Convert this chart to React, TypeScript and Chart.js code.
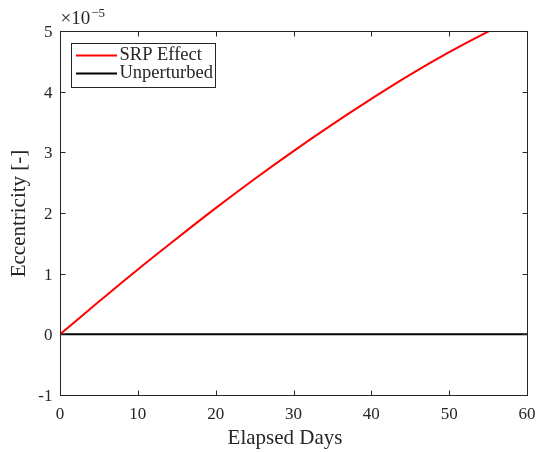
import { useEffect, useRef } from "react";
import { Chart, registerables } from "chart.js";

Chart.register(...registerables);

// Eccentricity values are in units of 1e-5 (see the ×10^-5 axis multiplier)
const elapsedDays = [0, 5, 10, 15, 20, 25, 30, 35, 40, 45, 50, 55, 60];
const srpEccentricity = [0, 0.54, 1.07, 1.58, 2.08, 2.56, 3.02, 3.46, 3.88, 4.28, 4.65, 4.99, 5.3];
const unperturbedDays = [0, 60];
const unperturbedEccentricity = [0, 0];

const xTicks = [0, 10, 20, 30, 40, 50, 60];
const xTickLabels = ["0", "10", "20", "30", "40", "50", "60"];
const yTicks = [-1, 0, 1, 2, 3, 4, 5];
const yTickLabels = ["-1", "0", "1", "2", "3", "4", "5"];

const seriesNames = ["SRP Effect", "Unperturbed"];
const seriesColors = ["#ff0000", "#000000"];

const xTitle = "Elapsed Days";
const yTitle = "Eccentricity [-]";
const multiplierBase = "\u00d710";
const multiplierExp = "\u22125";

const SERIF = '"Liberation Serif", "DejaVu Serif", serif';
const AXIS_COLOR = "#262626";

const axesPlugin = {
  id: "matlabAxes",
  afterDatasetsDraw(chart: any) {
    const { ctx, chartArea: a, scales } = chart;
    const xs = scales.x;
    const ys = scales.y;
    ctx.save();

    // axes box
    ctx.strokeStyle = AXIS_COLOR;
    ctx.lineWidth = 1;
    const L = Math.round(a.left) + 0.5;
    const R = Math.round(a.right) + 0.5;
    const T = Math.round(a.top) + 0.5;
    const B = Math.round(a.bottom) + 0.5;
    ctx.strokeRect(L, T, R - L, B - T);

    // inward tick marks on all four sides
    const tl = 5;
    ctx.beginPath();
    xTicks.forEach((v) => {
      const px = Math.round(xs.getPixelForValue(v)) + 0.5;
      ctx.moveTo(px, B);
      ctx.lineTo(px, B - tl);
      ctx.moveTo(px, T);
      ctx.lineTo(px, T + tl);
    });
    yTicks.forEach((v) => {
      const py = Math.round(ys.getPixelForValue(v)) + 0.5;
      ctx.moveTo(L, py);
      ctx.lineTo(L + tl, py);
      ctx.moveTo(R, py);
      ctx.lineTo(R - tl, py);
    });
    ctx.stroke();

    // tick labels
    ctx.fillStyle = AXIS_COLOR;
    ctx.font = `17px ${SERIF}`;
    ctx.textBaseline = "alphabetic";
    ctx.textAlign = "center";
    xTicks.forEach((v, i) => {
      ctx.fillText(xTickLabels[i], xs.getPixelForValue(v), B + 23);
    });
    ctx.textAlign = "right";
    yTicks.forEach((v, i) => {
      ctx.fillText(yTickLabels[i], L - 8, ys.getPixelForValue(v) + 6);
    });

    // exponent multiplier
    ctx.textAlign = "left";
    ctx.font = `19px ${SERIF}`;
    ctx.fillText(multiplierBase, L, 24);
    const w = ctx.measureText(multiplierBase).width;
    ctx.font = `13px ${SERIF}`;
    ctx.fillText(multiplierExp, L + w + 1, 17);

    // axis titles
    ctx.font = `21px ${SERIF}`;
    ctx.textAlign = "center";
    ctx.fillText(xTitle, (L + R) / 2 - 9, 444);
    ctx.save();
    ctx.translate(25, (T + B) / 2);
    ctx.rotate(-Math.PI / 2);
    ctx.fillText(yTitle, 0, 0);
    ctx.restore();

    // legend
    const lx = 71.5;
    const ly = 43.5;
    ctx.fillStyle = "#ffffff";
    ctx.fillRect(lx, ly, 144, 44);
    ctx.strokeStyle = AXIS_COLOR;
    ctx.lineWidth = 1;
    ctx.strokeRect(lx, ly, 144, 44);
    ctx.font = `18.5px ${SERIF}`;
    ctx.textAlign = "left";
    const rows = [55.5, 73.5];
    chart.data.datasets.forEach((ds: any, i: number) => {
      ctx.strokeStyle = ds.borderColor;
      ctx.lineWidth = 2;
      ctx.beginPath();
      ctx.moveTo(76, rows[i]);
      ctx.lineTo(117, rows[i]);
      ctx.stroke();
      ctx.fillStyle = AXIS_COLOR;
      ctx.fillText(ds.label, 119.5, rows[i] + 4);
    });

    ctx.restore();
  },
};

export default function App() {
  const canvasRef = useRef<HTMLCanvasElement | null>(null);

  useEffect(() => {
    if (!canvasRef.current) return;
    const chart = new Chart(canvasRef.current, {
      type: "line",
      data: {
        datasets: [
          {
            label: seriesNames[0],
            data: elapsedDays.map((d, i) => ({ x: d, y: srpEccentricity[i] })),
            borderColor: seriesColors[0],
            borderWidth: 2,
            pointRadius: 0,
            cubicInterpolationMode: "monotone",
            fill: false,
          },
          {
            label: seriesNames[1],
            data: unperturbedDays.map((d, i) => ({ x: d, y: unperturbedEccentricity[i] })),
            borderColor: seriesColors[1],
            borderWidth: 2,
            pointRadius: 0,
            fill: false,
          },
        ],
      },
      options: {
        responsive: false,
        animation: false,
        events: [],
        layout: { padding: { left: 0, right: 11, top: 31, bottom: 0 } },
        plugins: {
          legend: { display: false },
          tooltip: { enabled: false },
        },
        scales: {
          x: {
            type: "linear",
            min: 0,
            max: 60,
            grid: { display: false },
            border: { display: false },
            ticks: { display: false },
            afterFit: (s: any) => {
              s.height = 57;
            },
          },
          y: {
            type: "linear",
            min: -1,
            max: 5,
            grid: { display: false },
            border: { display: false },
            ticks: { display: false },
            afterFit: (s: any) => {
              s.width = 60;
            },
          },
        },
      },
      plugins: [axesPlugin],
    });
    return () => chart.destroy();
  }, []);

  return (
    <div style={{ position: "absolute", left: 0, top: 0, width: 538, height: 452, background: "#fff" }}>
      <canvas ref={canvasRef} width={538} height={452} style={{ display: "block" }} />
    </div>
  );
}
